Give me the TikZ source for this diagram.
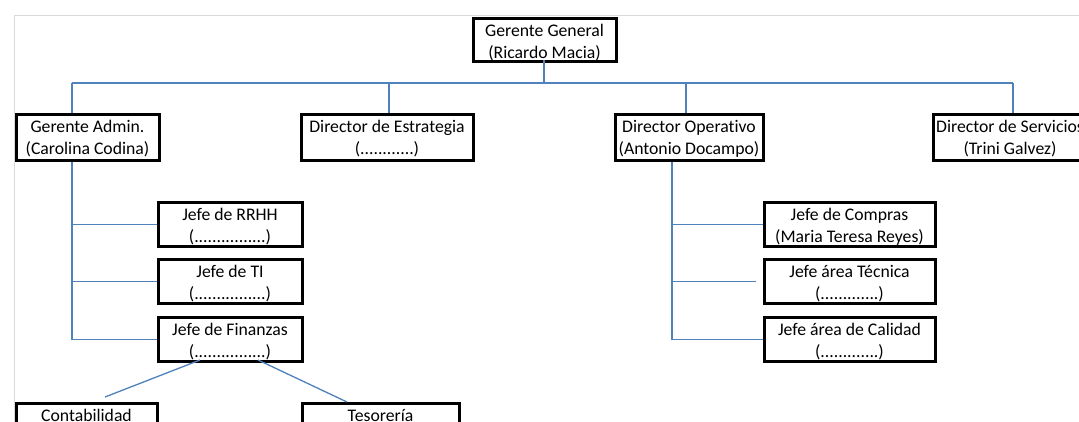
\documentclass[tikz,border=0pt]{standalone}
\usepackage{fontspec}
\setmainfont{Carlito}[Ligatures=NoCommon]
\usetikzlibrary{calc}
\tikzset{
  box/.style={draw=black, line width=3pt, fill=white, rectangle, align=center, inner sep=0pt,
    font=\fontsize{17.7}{21.5}\selectfont, text height=39.5pt},
  hA/.style={box, text depth=3.5pt},
  hB/.style={box, text depth=4.5pt},
  hC/.style={box, text depth=6.5pt},
  lowbox/.style={box, anchor=north, text height=17.5pt, text depth=28.5pt},
  conn/.style={draw={rgb,255:red,79;green,129;blue,189}, line width=1.3pt},
  frame/.style={draw={rgb,255:red,217;green,217;blue,217}, line width=1.8pt}
}
\begin{document}
\begin{tikzpicture}[x=1pt,y=-1pt]
\useasboundingbox (0,0) rectangle (1079,421);
\clip (0,0) rectangle (1079,421);
\fill[white] (0,0) rectangle (1079,421);
\draw[frame] (14.5,425) -- (14.5,15.5) -- (1085,15.5);

% top and second row (anchored at top-centre)
\node[hA, anchor=north, minimum width=143] (gg) at (544.5,17) {Gerente General\\(Ricardo Macia)};
\node[hC, anchor=north, minimum width=143] (ga) at (87.5,113) {Gerente Admin.\\(Carolina Codina)};
\node[hC, anchor=north, minimum width=172] (de) at (387,113) {Director de Estrategia\\(............)};
\node[hC, anchor=north, minimum width=148] (dop) at (689,113) {Director Operativo\\(Antonio Docampo)};
\node[hC, anchor=north, minimum width=154] (ds) at (1010,113) {Director de Servicios\\(Trini Galvez)};

% left branch
\node[hB, anchor=north, minimum width=144] (rrhh) at (230,201) {Jefe de RRHH\\(................)};
\node[hB, anchor=north, minimum width=144] (ti) at (230,258) {Jefe de TI\\(................)};
\node[hB, anchor=north, minimum width=144] (fin) at (230,316) {Jefe de Finanzas\\(................)};

% right branch
\node[hB, anchor=north, minimum width=171] (comp) at (849.5,201) {Jefe de Compras\\(Maria Teresa Reyes)};
\node[hB, anchor=north, minimum width=171] (tec) at (849.5,258) {Jefe área Técnica\\(.............)};
\node[hB, anchor=north, minimum width=171] (cal) at (849.5,316) {Jefe área de Calidad\\(.............)};

% bottom row (cut by the page edge)
\node[lowbox, minimum width=141] (cont) at (86.5,402) {Contabilidad};
\node[lowbox, minimum width=157] (tes) at (380.5,402) {Tesorería};

% connectors
\coordinate (busL) at (72,83);
\coordinate (busR) at (1013,83);
\coordinate (gg-b) at (544,60);
\coordinate (de-in) at (389,83);
\coordinate (dop-in) at (686,83);
\coordinate (dopx) at (672,0);
\draw[conn] (busL) -- (busR);
\draw[conn] (gg-b) -- (gg-b |- busL);
\draw[conn] (busL) -- (busL |- ga.north);
\draw[conn] (de-in) -- (de-in |- de.north);
\draw[conn] (dop-in) -- (dop-in |- dop.north);
\draw[conn] (busR) -- (busR |- ds.north);

\coordinate (ga-out) at (busL |- ga.south);
\draw[conn] (ga-out) -- (ga-out |- fin.west);
\draw[conn] (ga-out |- rrhh.west) -- (rrhh.west);
\draw[conn] (ga-out |- ti.west) -- (ti.west);
\draw[conn] (ga-out |- fin.west) -- (fin.west);

\coordinate (dop-out) at (dopx |- dop.south);
\draw[conn] (dop-out) -- (dop-out |- cal.west);
\draw[conn] (dop-out |- comp.west) -- (comp.west);
\draw[conn] (dop-out |- tec.west) -- ($(tec.west)+(-7,0)$);
\draw[conn] (dop-out |- cal.west) -- (cal.west);

\coordinate (fin-l) at (200,360);
\coordinate (fin-r) at (258,360);
\coordinate (cont-t) at (105,397);
\coordinate (tes-t) at (347,402);
\draw[conn] (fin-l) -- (cont-t);
\draw[conn] (fin-r) -- (tes-t);
\end{tikzpicture}
\end{document}
